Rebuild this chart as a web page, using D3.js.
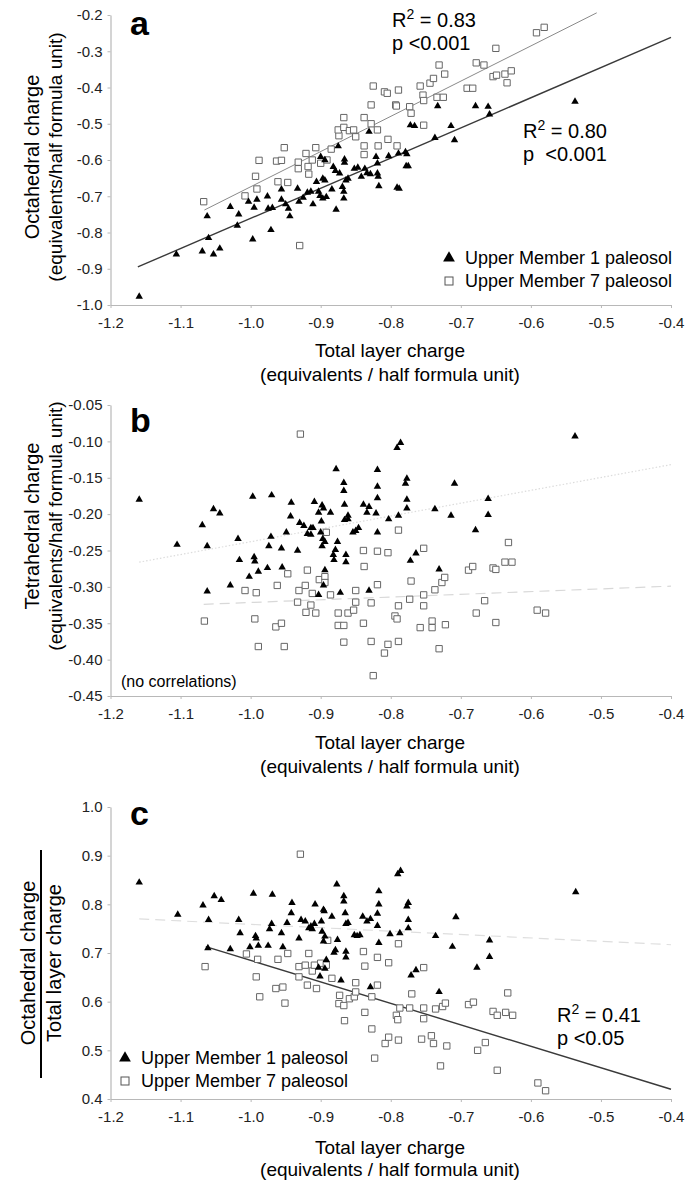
<!DOCTYPE html>
<html><head><meta charset="utf-8">
<script src="https://cdn.jsdelivr.net/npm/d3@7"></script>
<style>body{margin:0;background:#fff}svg{display:block}</style>
</head><body><svg id="c" width="688" height="1182"></svg>
<script>
// ---------- DATA ----------
const xTickLabels = ["-1.2","-1.1","-1.0","-0.9","-0.8","-0.7","-0.6","-0.5","-0.4"];
const yTickLabelsA = ["-1.0","-0.9","-0.8","-0.7","-0.6","-0.5","-0.4","-0.3","-0.2"];
const yTickLabelsB = ["-0.45","-0.40","-0.35","-0.30","-0.25","-0.20","-0.15","-0.10","-0.05"];
const yTickLabelsC = ["0.4","0.5","0.6","0.7","0.8","0.9","1.0"];
const seriesNames = ["Upper Member 1 paleosol","Upper Member 7 paleosol"];

// Panel a: octahedral charge vs total layer charge
const m1TotalA = [-1.159,-1.106,-1.069,-1.062,-1.060,-1.053,-1.044,-1.029,-1.019,-1.017,-1.003,-0.997,-0.995,-0.991,-0.976,-0.975,-0.971,-0.969,-0.956,-0.956,-0.950,-0.946,-0.944,-0.933,-0.931,-0.925,-0.919,-0.914,-0.911,-0.906,-0.903,-0.901,-0.900,-0.897,-0.897,-0.894,-0.894,-0.892,-0.884,-0.882,-0.879,-0.878,-0.875,-0.873,-0.869,-0.867,-0.867,-0.866,-0.866,-0.864,-0.861,-0.852,-0.847,-0.842,-0.837,-0.834,-0.831,-0.829,-0.821,-0.819,-0.819,-0.818,-0.817,-0.803,-0.791,-0.788,-0.789,-0.779,-0.778,-0.775,-0.777,-0.772,-0.766,-0.737,-0.733,-0.714,-0.709,-0.679,-0.661,-0.659,-0.537];
const m1OctA   = [-0.977,-0.860,-0.852,-0.755,-0.815,-0.860,-0.844,-0.729,-0.781,-0.750,-0.715,-0.819,-0.731,-0.709,-0.700,-0.734,-0.793,-0.732,-0.681,-0.709,-0.722,-0.734,-0.755,-0.679,-0.715,-0.704,-0.690,-0.687,-0.722,-0.660,-0.687,-0.699,-0.591,-0.706,-0.651,-0.656,-0.600,-0.702,-0.681,-0.619,-0.630,-0.737,-0.562,-0.637,-0.674,-0.687,-0.706,-0.598,-0.607,-0.656,-0.651,-0.624,-0.621,-0.646,-0.624,-0.636,-0.522,-0.639,-0.591,-0.609,-0.637,-0.646,-0.672,-0.589,-0.676,-0.679,-0.582,-0.578,-0.617,-0.617,-0.584,-0.504,-0.506,-0.539,-0.451,-0.506,-0.545,-0.451,-0.453,-0.474,-0.439];
const m7TotalA = [-1.067,-1.008,-0.993,-0.991,-0.988,-0.963,-0.956,-0.952,-0.961,-0.947,-0.932,-0.932,-0.930,-0.921,-0.918,-0.917,-0.912,-0.907,-0.900,-0.891,-0.885,-0.874,-0.875,-0.867,-0.867,-0.859,-0.853,-0.850,-0.838,-0.838,-0.838,-0.828,-0.828,-0.819,-0.818,-0.825,-0.809,-0.805,-0.804,-0.793,-0.792,-0.789,-0.791,-0.773,-0.771,-0.758,-0.754,-0.753,-0.753,-0.744,-0.739,-0.731,-0.734,-0.725,-0.723,-0.691,-0.683,-0.678,-0.667,-0.654,-0.649,-0.650,-0.637,-0.634,-0.628,-0.592,-0.581];
const m7OctA   = [-0.715,-0.699,-0.645,-0.680,-0.601,-0.603,-0.601,-0.566,-0.660,-0.662,-0.606,-0.624,-0.836,-0.582,-0.618,-0.639,-0.600,-0.566,-0.609,-0.600,-0.570,-0.533,-0.517,-0.483,-0.510,-0.519,-0.517,-0.536,-0.483,-0.561,-0.585,-0.448,-0.500,-0.517,-0.561,-0.396,-0.412,-0.416,-0.543,-0.448,-0.451,-0.407,-0.561,-0.453,-0.471,-0.396,-0.421,-0.436,-0.504,-0.388,-0.375,-0.338,-0.427,-0.427,-0.363,-0.402,-0.402,-0.332,-0.338,-0.370,-0.366,-0.292,-0.363,-0.387,-0.354,-0.249,-0.234];
const fitA_m1 = [[-1.161,-0.895],[-0.400,-0.262]];
const fitA_m7 = [[-1.066,-0.738],[-0.506,-0.194]];

// Panel b: tetrahedral charge vs total layer charge
const m1TotalB = [-1.159,-1.105,-1.069,-1.062,-1.062,-1.053,-1.044,-1.029,-1.018,-1.016,-1.002,-0.997,-0.995,-0.994,-0.989,-0.976,-0.974,-0.971,-0.970,-0.956,-0.955,-0.949,-0.943,-0.942,-0.933,-0.930,-0.924,-0.919,-0.914,-0.914,-0.911,-0.909,-0.903,-0.903,-0.900,-0.899,-0.898,-0.898,-0.897,-0.896,-0.896,-0.894,-0.894,-0.886,-0.882,-0.881,-0.879,-0.878,-0.876,-0.872,-0.867,-0.867,-0.866,-0.866,-0.864,-0.864,-0.861,-0.861,-0.854,-0.850,-0.846,-0.839,-0.834,-0.831,-0.831,-0.819,-0.819,-0.819,-0.821,-0.819,-0.803,-0.791,-0.786,-0.789,-0.779,-0.777,-0.777,-0.777,-0.772,-0.764,-0.737,-0.731,-0.714,-0.709,-0.679,-0.661,-0.661,-0.537];
const m1TetB   = [-0.180,-0.242,-0.215,-0.244,-0.306,-0.193,-0.199,-0.298,-0.234,-0.263,-0.286,-0.176,-0.259,-0.265,-0.279,-0.274,-0.244,-0.231,-0.174,-0.247,-0.273,-0.225,-0.203,-0.184,-0.250,-0.212,-0.216,-0.227,-0.219,-0.228,-0.219,-0.183,-0.198,-0.311,-0.225,-0.210,-0.244,-0.188,-0.234,-0.192,-0.298,-0.277,-0.238,-0.198,-0.256,-0.263,-0.249,-0.138,-0.238,-0.308,-0.157,-0.168,-0.187,-0.208,-0.256,-0.266,-0.202,-0.207,-0.225,-0.223,-0.219,-0.187,-0.198,-0.190,-0.305,-0.139,-0.162,-0.178,-0.199,-0.225,-0.207,-0.109,-0.102,-0.202,-0.158,-0.151,-0.180,-0.192,-0.264,-0.254,-0.193,-0.276,-0.202,-0.158,-0.222,-0.179,-0.201,-0.093];
const m7TotalB = [-1.066,-1.008,-0.992,-0.994,-0.989,-0.962,-0.964,-0.956,-0.952,-0.947,-0.931,-0.933,-0.929,-0.922,-0.921,-0.919,-0.914,-0.912,-0.907,-0.902,-0.894,-0.894,-0.892,-0.886,-0.875,-0.875,-0.867,-0.867,-0.861,-0.853,-0.850,-0.850,-0.839,-0.838,-0.839,-0.828,-0.828,-0.825,-0.819,-0.819,-0.809,-0.804,-0.804,-0.794,-0.791,-0.789,-0.789,-0.789,-0.773,-0.771,-0.753,-0.753,-0.753,-0.758,-0.741,-0.741,-0.737,-0.731,-0.727,-0.723,-0.722,-0.689,-0.683,-0.678,-0.666,-0.654,-0.650,-0.650,-0.637,-0.632,-0.627,-0.591,-0.579];
const m7TetB   = [-0.347,-0.305,-0.308,-0.344,-0.382,-0.298,-0.355,-0.350,-0.382,-0.282,-0.305,-0.321,-0.090,-0.298,-0.335,-0.277,-0.325,-0.309,-0.336,-0.290,-0.286,-0.294,-0.225,-0.311,-0.336,-0.353,-0.353,-0.376,-0.336,-0.332,-0.305,-0.321,-0.250,-0.272,-0.350,-0.322,-0.375,-0.422,-0.251,-0.297,-0.391,-0.379,-0.253,-0.340,-0.344,-0.326,-0.222,-0.375,-0.317,-0.292,-0.247,-0.311,-0.326,-0.356,-0.347,-0.356,-0.304,-0.385,-0.294,-0.287,-0.352,-0.277,-0.272,-0.336,-0.319,-0.274,-0.276,-0.349,-0.266,-0.239,-0.266,-0.332,-0.336];
const fitB_m1 = [[-1.159,-0.266],[-0.400,-0.132]];
const fitB_m7 = [[-1.067,-0.324],[-0.400,-0.299]];

// Panel c: octahedral / total layer charge vs total layer charge
const m1TotalC = [-1.159,-1.104,-1.068,-1.060,-1.061,-1.052,-1.042,-1.029,-1.017,-1.015,-1.001,-0.996,-0.993,-0.992,-0.989,-0.975,-0.973,-0.970,-0.969,-0.956,-0.954,-0.948,-0.942,-0.941,-0.931,-0.928,-0.922,-0.917,-0.914,-0.912,-0.909,-0.908,-0.903,-0.901,-0.899,-0.898,-0.896,-0.896,-0.895,-0.894,-0.894,-0.892,-0.884,-0.881,-0.879,-0.877,-0.876,-0.871,-0.867,-0.867,-0.865,-0.864,-0.864,-0.864,-0.861,-0.852,-0.848,-0.844,-0.840,-0.834,-0.829,-0.829,-0.817,-0.817,-0.819,-0.819,-0.817,-0.801,-0.790,-0.786,-0.787,-0.777,-0.775,-0.775,-0.775,-0.771,-0.764,-0.736,-0.731,-0.712,-0.707,-0.677,-0.659,-0.659,-0.536];
const m1RatioC = [0.845,0.779,0.798,0.768,0.710,0.817,0.809,0.708,0.768,0.741,0.712,0.822,0.735,0.730,0.715,0.715,0.749,0.760,0.820,0.741,0.712,0.762,0.782,0.803,0.730,0.768,0.765,0.751,0.755,0.749,0.760,0.800,0.670,0.652,0.765,0.744,0.789,0.724,0.786,0.668,0.734,0.686,0.775,0.701,0.706,0.841,0.727,0.644,0.817,0.806,0.782,0.760,0.703,0.691,0.762,0.737,0.735,0.737,0.775,0.765,0.770,0.630,0.827,0.800,0.781,0.756,0.721,0.739,0.862,0.869,0.741,0.796,0.803,0.768,0.751,0.654,0.665,0.735,0.620,0.713,0.774,0.670,0.726,0.692,0.825];
const m7TotalC = [-1.065,-1.006,-0.990,-0.992,-0.987,-0.961,-0.964,-0.954,-0.951,-0.947,-0.931,-0.931,-0.929,-0.922,-0.919,-0.917,-0.912,-0.909,-0.906,-0.900,-0.892,-0.890,-0.884,-0.873,-0.874,-0.867,-0.866,-0.859,-0.852,-0.850,-0.850,-0.839,-0.837,-0.837,-0.827,-0.827,-0.823,-0.819,-0.819,-0.808,-0.803,-0.803,-0.792,-0.790,-0.789,-0.789,-0.787,-0.770,-0.773,-0.753,-0.753,-0.753,-0.756,-0.742,-0.739,-0.736,-0.729,-0.726,-0.722,-0.720,-0.689,-0.682,-0.676,-0.665,-0.654,-0.648,-0.648,-0.636,-0.633,-0.626,-0.590,-0.579];
const m7RatioC = [0.672,0.698,0.687,0.651,0.610,0.687,0.627,0.630,0.597,0.699,0.672,0.651,0.903,0.675,0.634,0.699,0.663,0.675,0.627,0.679,0.675,0.726,0.648,0.613,0.596,0.592,0.561,0.606,0.610,0.620,0.639,0.703,0.673,0.578,0.610,0.544,0.484,0.691,0.634,0.514,0.527,0.680,0.572,0.563,0.521,0.719,0.587,0.616,0.587,0.670,0.587,0.565,0.523,0.530,0.514,0.585,0.468,0.590,0.597,0.509,0.594,0.599,0.500,0.516,0.580,0.572,0.459,0.578,0.618,0.572,0.433,0.417];
const fitC_m1 = [[-1.159,0.770],[-0.400,0.717]];
const fitC_m7 = [[-1.064,0.713],[-0.400,0.420]];

// ---------- DRAWING ----------
const svg = d3.select("#c");
const FONT = "'Liberation Sans', Arial, Helvetica, sans-serif";
const x = d3.scaleLinear().domain([-1.2, -0.4]).range([110.5, 671]);
const zip = (a, b) => a.map((v, i) => [v, b[i]]);

function drawPanel(o) {
  const y = d3.scaleLinear().domain(o.yDomain).range(o.yRange);
  const g = svg.append("g");
  const yVals = o.yTicks.map(Number);
  const xVals = xTickLabels.map(Number);
  const ya = g.append("g").attr("transform", `translate(${x.range()[0]},0)`)
    .call(d3.axisLeft(y).tickValues(yVals).tickFormat((d, i) => o.yTicks[i]).tickSize(3).tickSizeOuter(0).tickPadding(5));
  const xa = g.append("g").attr("transform", `translate(0,${o.yRange[0]})`)
    .call(d3.axisBottom(x).tickValues(xVals).tickFormat((d, i) => xTickLabels[i]).tickSize(3).tickSizeOuter(0).tickPadding(9));
  [ya, xa].forEach(a => {
    a.attr("font-family", FONT).attr("font-size", 15);
    a.select(".domain").attr("stroke", "#b8b8b8").attr("stroke-width", 1.2);
    a.selectAll(".tick line").attr("stroke", "#b8b8b8");
    a.selectAll(".tick text").attr("fill", "#222");
  });
  const line = d3.line().x(d => x(d[0])).y(d => y(d[1]));
  o.fits.forEach(f => {
    g.append("path").attr("d", line(f.pts)).attr("fill", "none")
      .attr("stroke", f.color).attr("stroke-width", f.w)
      .attr("stroke-dasharray", f.dash || null);
  });
  const tri = d3.symbol().type(d3.symbolTriangle).size(24);
  const sq = d3.symbol().type(d3.symbolSquare).size(40);
  g.append("g").selectAll("path").data(zip(o.m7x, o.m7y)).join("path")
    .attr("d", sq).attr("transform", d => `translate(${x(d[0])},${y(d[1])})`)
    .attr("fill", "#fff").attr("stroke", "#666").attr("stroke-width", 1);
  g.append("g").selectAll("path").data(zip(o.m1x, o.m1y)).join("path")
    .attr("d", tri).attr("transform", d => `translate(${x(d[0])},${y(d[1])})`)
    .attr("fill", "#000");
  g.append("text").attr("x", 130).attr("y", o.letterY).text(o.letter)
    .attr("font-family", FONT).attr("font-weight", "bold").attr("font-size", 34);
  const cx = 390;
  g.append("text").attr("x", cx).attr("y", o.yRange[0] + o.xt1).attr("text-anchor", "middle")
    .attr("font-family", FONT).attr("font-size", 19).text("Total layer charge");
  g.append("text").attr("x", cx).attr("y", o.yRange[0] + o.xt2).attr("text-anchor", "middle")
    .attr("font-family", FONT).attr("font-size", 19).text("(equivalents / half formula unit)");
  return {g, y};
}

function rText(g, txt, cx, cy, size) {
  g.append("text").attr("transform", `translate(${cx},${cy}) rotate(-90)`)
    .attr("text-anchor", "middle").attr("dominant-baseline", "central")
    .attr("font-family", FONT).attr("font-size", size).text(txt);
}
function rsq(g, r2, p, tx, ty) {
  const t = g.append("text").attr("x", tx).attr("y", ty).attr("font-family", FONT).attr("font-size", 20);
  t.append("tspan").text("R");
  t.append("tspan").attr("dy", -8).attr("font-size", 14).text("2");
  t.append("tspan").attr("dy", 8).text(" = " + r2);
  g.append("text").attr("x", tx).attr("y", ty + 23).attr("font-family", FONT).attr("font-size", 20)
    .attr("xml:space", "preserve").text(p);
}
function legend(g, lx, ly) {
  g.append("path").attr("d", d3.symbol().type(d3.symbolTriangle).size(60)())
    .attr("transform", `translate(${lx},${ly})`).attr("fill", "#000");
  g.append("rect").attr("x", lx - 4).attr("y", ly + 19).attr("width", 8).attr("height", 8)
    .attr("fill", "#fff").attr("stroke", "#555");
  g.append("text").attr("x", lx + 16).attr("y", ly + 6).attr("font-family", FONT).attr("font-size", 18).text(seriesNames[0]);
  g.append("text").attr("x", lx + 16).attr("y", ly + 29).attr("font-family", FONT).attr("font-size", 18).text(seriesNames[1]);
}

// Panel a
const A = drawPanel({yDomain: [-1.0, -0.2], yRange: [305, 15], yTicks: yTickLabelsA, letter: "a", letterY: 35,
  xt1: 52, xt2: 76,
  m1x: m1TotalA, m1y: m1OctA, m7x: m7TotalA, m7y: m7OctA,
  fits: [{pts: fitA_m7, color: "#8a8a8a", w: 1}, {pts: fitA_m1, color: "#3a3a3a", w: 1.4}]});
rText(A.g, "Octahedral charge", 32, 157, 20);
rText(A.g, "(equivalents/half formula unit)", 55, 157, 19);
rsq(A.g, "0.83", "p <0.001", 392, 27);
rsq(A.g, "0.80", "p  <0.001", 523, 138);
legend(A.g, 449, 258);

// Panel b
const B = drawPanel({yDomain: [-0.45, -0.05], yRange: [696, 405], yTicks: yTickLabelsB, letter: "b", letterY: 432,
  xt1: 53, xt2: 77,
  m1x: m1TotalB, m1y: m1TetB, m7x: m7TotalB, m7y: m7TetB,
  fits: [{pts: fitB_m1, color: "#dcdcdc", w: 1.2, dash: "1.5,2"}, {pts: fitB_m7, color: "#d8d8d8", w: 1.2, dash: "10,6"}]});
rText(B.g, "Tetrahedral charge", 32, 526, 20);
rText(B.g, "(equivalents/half formula unit)", 55, 526, 19);
B.g.append("text").attr("x", 121).attr("y", 687).attr("font-family", FONT).attr("font-size", 16).text("(no correlations)");

// Panel c
const C = drawPanel({yDomain: [0.4, 1.0], yRange: [1099, 807], yTicks: yTickLabelsC, letter: "c", letterY: 825,
  xt1: 55, xt2: 77,
  m1x: m1TotalC, m1y: m1RatioC, m7x: m7TotalC, m7y: m7RatioC,
  fits: [{pts: fitC_m1, color: "#dedede", w: 1.2, dash: "10,6"}, {pts: fitC_m7, color: "#3a3a3a", w: 1.4}]});
rText(C.g, "Octahedral charge", 28, 963, 20);
C.g.append("line").attr("x1", 41).attr("x2", 41).attr("y1", 850).attr("y2", 1078).attr("stroke", "#000").attr("stroke-width", 2);
rText(C.g, "Total layer charge", 54, 963, 20);
rsq(C.g, "0.41", "p <0.05", 557, 1022);
legend(C.g, 125, 1058);
</script></body></html>
